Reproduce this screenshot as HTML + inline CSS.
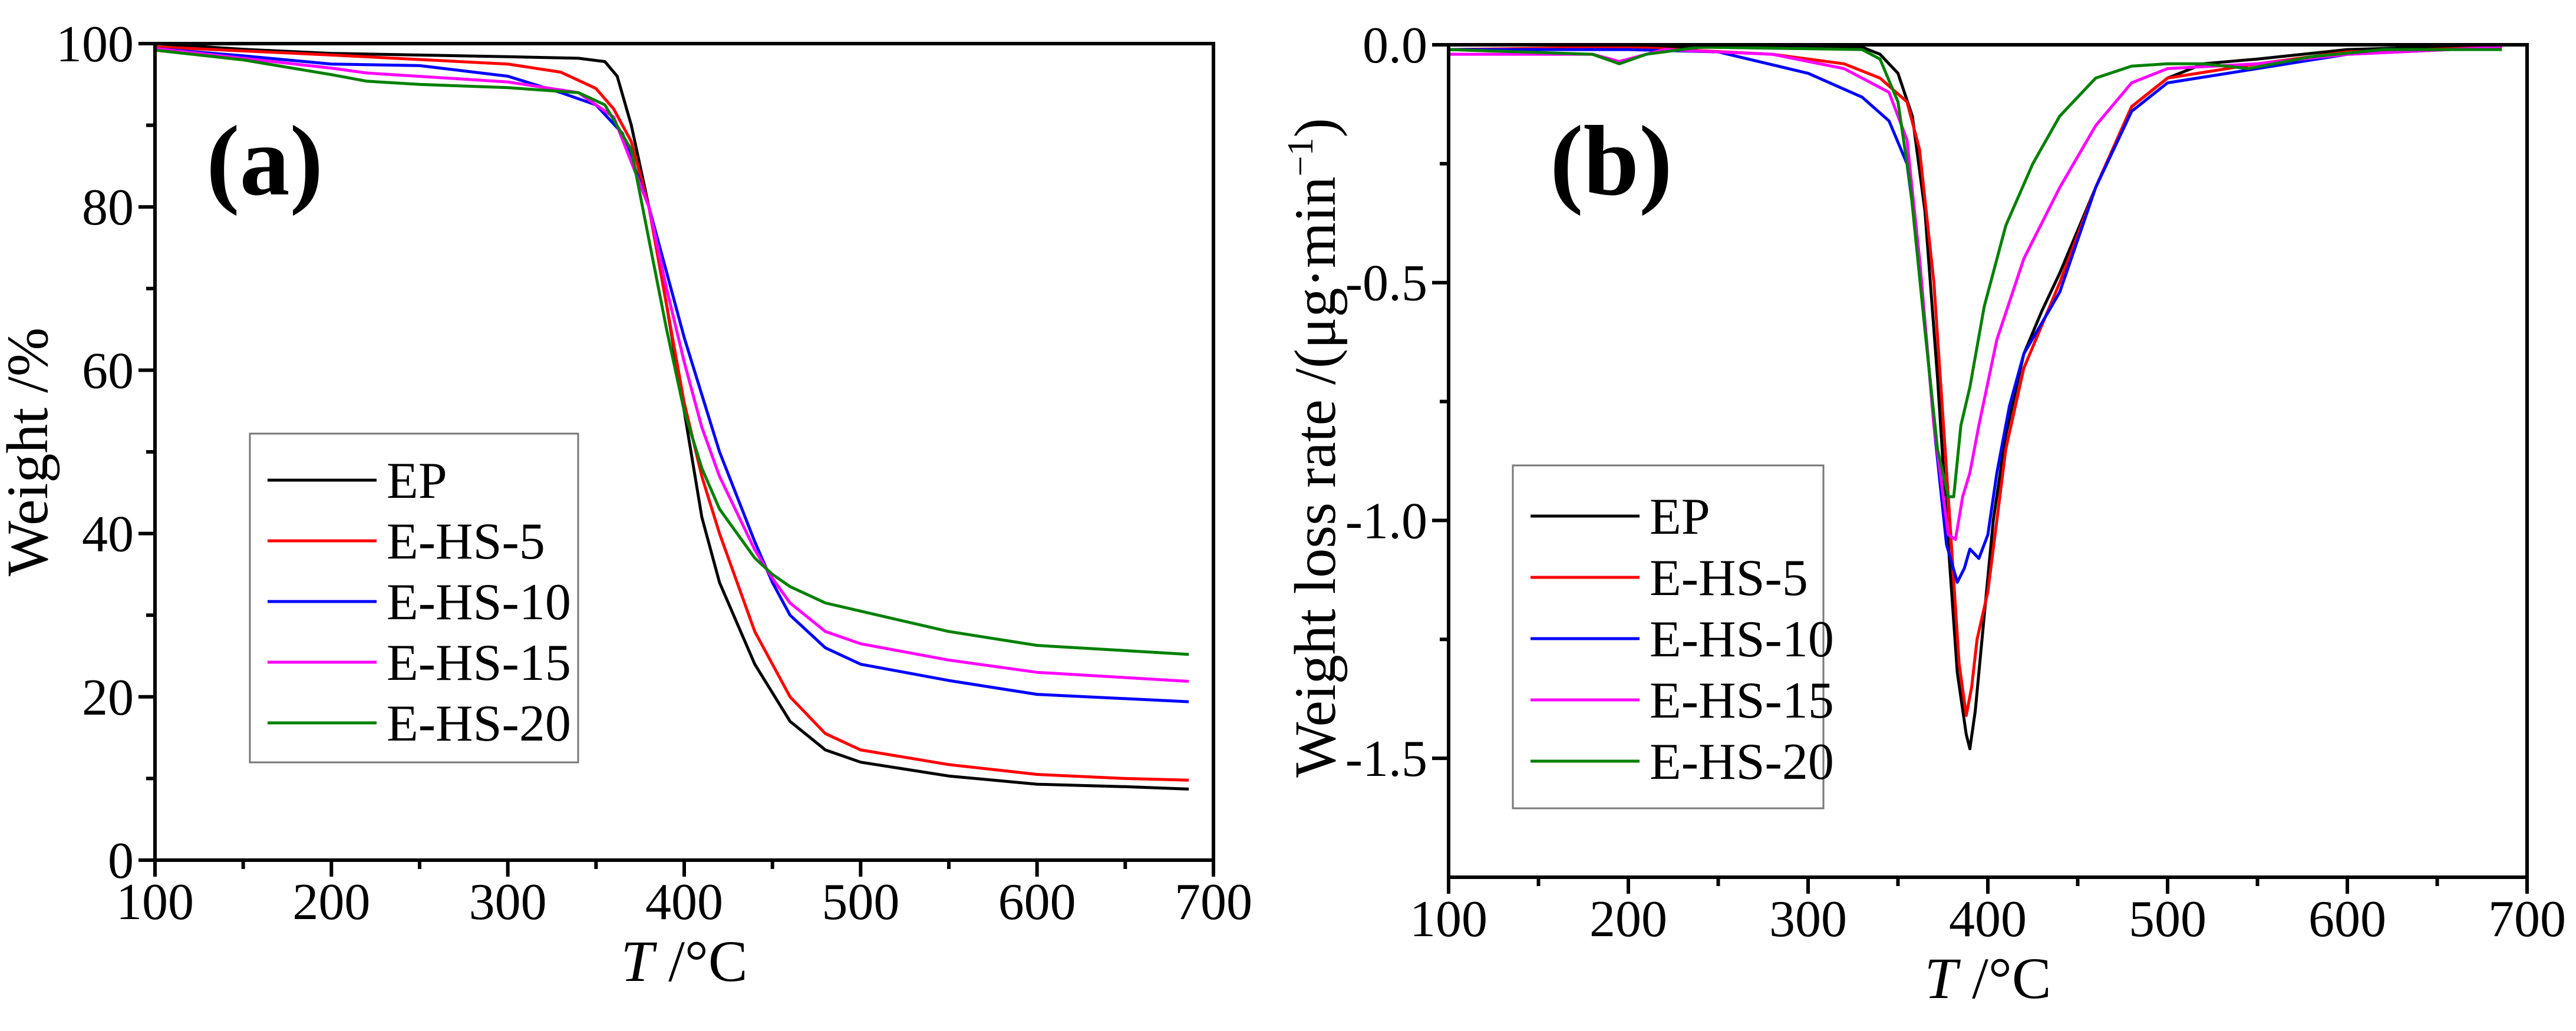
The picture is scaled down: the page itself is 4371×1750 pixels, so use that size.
<!DOCTYPE html>
<html><head><meta charset="utf-8"><style>
html,body{margin:0;padding:0;background:#fff;}
svg{display:block;}
svg text{font-family:"Liberation Serif","Times New Roman",serif;}
</style></head><body>
<svg id="fig" width="4371" height="1750" viewBox="0 0 4371 1750" xmlns="http://www.w3.org/2000/svg" font-family="Liberation Serif, serif">
<g id="pa"></g>
<g id="pb"></g>
</svg>
<script>
const seriesNames = ["EP","E-HS-5","E-HS-10","E-HS-15","E-HS-20"];
const seriesColors = ["#000000","#ff0000","#0000ff","#ff00ff","#008000"];
const xTicks = [100,200,300,400,500,600,700];
const aYTicks = [0,20,40,60,80,100];
const bYTicks = [0.0,-0.5,-1.0,-1.5];
const bYTickLabels = ["0.0","-0.5","-1.0","-1.5"];
// Panel (a) weight % : [T, value]
const wEP = [[100,100],[150,99.3],[200,98.8],[300,98.4],[340,98.2],[355,97.8],[362,96],[370,90],[380,80],[390,68],[400,55],[410,42],[420,34],[440,24],[460,17],[480,13.5],[500,12],[550,10.3],[600,9.3],[650,9],[686,8.7]];
const wHS5 = [[100,99.6],[200,98.6],[300,97.5],[330,96.5],[350,94.5],[360,92],[370,88],[380,80],[390,68],[400,56],[410,47],[420,40],[440,28],[460,20],[480,15.5],[500,13.5],[550,11.7],[600,10.5],[650,10],[686,9.8]];
const wHS10 = [[100,99.4],[150,98.5],[200,97.5],[250,97.3],[300,96],[330,94],[350,92.5],[365,89],[380,80],[390,72],[400,64],[410,57],[420,50],[440,39],[450,34],[460,30],[480,26],[500,24],[550,22],[600,20.3],[686,19.4]];
const wHS15 = [[100,99.4],[200,97],[220,96.4],[300,95.3],[340,94],[360,91],[380,80],[390,70],[400,61],[410,53],[420,47],[440,38],[450,34.5],[460,31.5],[480,28],[500,26.5],[550,24.5],[600,23],[686,21.9]];
const wHS20 = [[100,99.2],[150,98],[200,96.2],[220,95.4],[250,95],[300,94.6],[340,94],[355,92.5],[370,87],[380,76],[390,65],[400,55],[410,48],[420,43],[440,37],[450,35],[460,33.5],[480,31.5],[500,30.5],[550,28],[600,26.3],[686,25.2]];
// Panel (b) weight loss rate
const rEP = [[100,-0.01],[250,-0.005],[330,-0.005],[340,-0.02],[350,-0.06],[358,-0.15],[365,-0.35],[372,-0.7],[378,-1.05],[383,-1.32],[388,-1.45],[390,-1.48],[393,-1.4],[398,-1.2],[403,-1.0],[410,-0.82],[420,-0.65],[430,-0.56],[440,-0.48],[460,-0.3],[480,-0.13],[500,-0.07],[520,-0.04],[550,-0.03],[600,-0.01],[686,0]];
const rHS5 = [[100,-0.01],[200,-0.005],[280,-0.02],[320,-0.04],[340,-0.07],[355,-0.12],[362,-0.22],[370,-0.5],[378,-0.95],[384,-1.3],[388,-1.41],[391,-1.35],[394,-1.25],[400,-1.15],[405,-1.0],[410,-0.85],[420,-0.68],[440,-0.5],[460,-0.3],[480,-0.13],[500,-0.07],[550,-0.04],[600,-0.015],[686,-0.005]];
const rHS10 = [[100,-0.01],[200,-0.01],[250,-0.015],[300,-0.06],[330,-0.11],[345,-0.16],[355,-0.25],[362,-0.45],[370,-0.8],[377,-1.05],[383,-1.13],[387,-1.1],[390,-1.06],[395,-1.08],[400,-1.03],[405,-0.9],[412,-0.76],[420,-0.65],[440,-0.52],[460,-0.3],[480,-0.14],[500,-0.08],[550,-0.05],[600,-0.02],[686,-0.005]];
const rHS15 = [[100,-0.02],[180,-0.02],[195,-0.035],[220,-0.01],[280,-0.02],[320,-0.05],[345,-0.1],[355,-0.2],[362,-0.45],[370,-0.8],[378,-1.03],[382,-1.04],[386,-0.95],[390,-0.9],[395,-0.8],[405,-0.62],[420,-0.45],[440,-0.3],[460,-0.17],[480,-0.08],[500,-0.05],[550,-0.04],[600,-0.02],[686,-0.005]];
const rHS20 = [[100,-0.01],[180,-0.02],[195,-0.04],[210,-0.02],[240,-0.005],[330,-0.01],[340,-0.03],[350,-0.12],[357,-0.3],[365,-0.6],[372,-0.85],[378,-0.95],[381,-0.95],[385,-0.8],[390,-0.72],[398,-0.55],[410,-0.38],[425,-0.25],[440,-0.15],[460,-0.07],[480,-0.045],[500,-0.04],[520,-0.04],[545,-0.05],[580,-0.025],[620,-0.01],[686,-0.01]];

const NS="http://www.w3.org/2000/svg";
const FF="Liberation Serif, Times New Roman, serif";
function mk(parent, tag, attrs, text){
  const e=document.createElementNS(NS,tag);
  for(const k in attrs) e.setAttribute(k,attrs[k]);
  if(tag==='text') e.setAttribute('font-family',FF);
  if(text!==undefined) e.textContent=text;
  parent.appendChild(e); return e;
}
function panel(g, box, xMin, xMax, yMin, yMax, yTicks, yLabels, series, legend, tag, ytitle, minorY){
  const sx=v=>box.l+(v-xMin)/(xMax-xMin)*(box.r-box.l);
  const sy=v=>box.b-(v-yMin)/(yMax-yMin)*(box.b-box.t);
  series.forEach((s,i)=>{
    const p=mk(g,'path',{d:s.map((d,j)=>(j?'L':'M')+sx(d[0]).toFixed(1)+' '+sy(d[1]).toFixed(1)).join(' '),fill:'none',stroke:seriesColors[i],'stroke-width':5,'stroke-linejoin':'round'});
    
    
  });
  const f=mk(g,'rect',{x:box.l,y:box.t,width:box.r-box.l,height:box.b-box.t,fill:'none',stroke:'#000','stroke-width':6});
  
  
  xTicks.forEach((v,i)=>{
    const x=sx(v);
    mk(g,'line',{x1:x,y1:box.b,x2:x,y2:box.b+28,stroke:'#000','stroke-width':6});
    if(i<xTicks.length-1){const xm=sx(v+50);mk(g,'line',{x1:xm,y1:box.b,x2:xm,y2:box.b+15,stroke:'#000','stroke-width':6});}
    const t=mk(g,'text',{x:x,y:box.b+100,'text-anchor':'middle','font-size':88},String(v));
    
    
  });
  yTicks.forEach((v,i)=>{
    const y=sy(v);
    mk(g,'line',{x1:box.l-28,y1:y,x2:box.l,y2:y,stroke:'#000','stroke-width':6});
    const t=mk(g,'text',{x:box.l-36,y:y+30,'text-anchor':'end','font-size':88},yLabels[i]);
    
    
  });
  minorY.forEach(v=>{const y=sy(v);mk(g,'line',{x1:box.l-15,y1:y,x2:box.l,y2:y,stroke:'#000','stroke-width':6});});
  const xt=mk(g,'text',{x:(box.l+box.r)/2,y:box.b+205,'text-anchor':'middle','font-size':100});
  
  
  mk(xt,'tspan',{'font-style':'italic'},'T');
  mk(xt,'tspan',{},' /°C');
  const yt=mk(g,'text',{x:0,y:0,'text-anchor':'middle','font-size':100,transform:`translate(${ytitle.x},${ytitle.y}) rotate(-90)`});
  
  
  ytitle.parts.forEach(p=>mk(yt,'tspan',p.a||{},p.t));
  const tg=mk(g,'text',{x:tag.x,y:tag.y,'font-size':170,'font-weight':'bold'},tag.t);
  
  
  const lg=mk(g,'g',{});
  
  
  mk(lg,'rect',{x:legend.x,y:legend.y,width:legend.w,height:legend.h,fill:'#fff',stroke:'#777','stroke-width':3});
  seriesNames.forEach((n,i)=>{
    const y=legend.y+legend.first+i*legend.step;
    const en=mk(lg,'g',{});
    
    
    mk(en,'line',{x1:legend.x+30,y1:y,x2:legend.x+215,y2:y,stroke:seriesColors[i],'stroke-width':5});
    mk(en,'text',{x:legend.x+232,y:y+30,'font-size':88},n);
  });
}
panel(document.getElementById('pa'),{l:263,r:2059,t:74,b:1460},100,700,0,100,aYTicks,aYTicks.map(String),
  [wEP,wHS5,wHS10,wHS15,wHS20],{x:424,y:736,w:557,h:558,first:79,step:103},{x:350,y:330,t:'(a)'},
  {x:80,y:767,parts:[{t:'Weight /%'}]},[10,30,50,70,90]);
panel(document.getElementById('pb'),{l:2458,r:4288,t:76,b:1489},100,700,-1.75,0,bYTicks,bYTickLabels,
  [rEP,rHS5,rHS10,rHS15,rHS20],{x:2567,y:790,w:527,h:582,first:86,step:104},{x:2630,y:330,t:'(b)'},
  {x:2265,y:760,parts:[{t:'Weight loss rate /(μg·min'},{t:'−1',a:{'font-size':62,dy:-38}},{t:')',a:{dy:38}}]},[-0.25,-0.75,-1.25]);
</script>
</body></html>
